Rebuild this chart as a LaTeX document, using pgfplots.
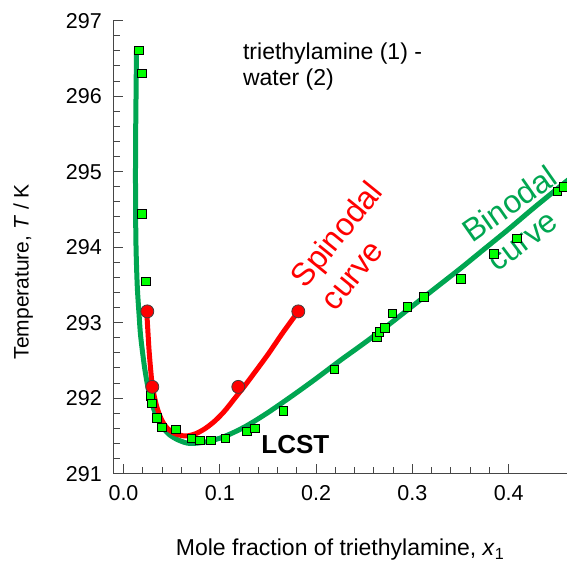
\documentclass[border=0pt]{standalone}
\usepackage{pgfplots}
\pgfplotsset{compat=1.18}
\usepackage{fontspec}
\setmainfont{Liberation Sans}
\definecolor{bgreen}{RGB}{0,166,81}
\definecolor{limeg}{RGB}{0,255,0}
\definecolor{axgray}{RGB}{70,70,70}
\begin{document}
\begin{tikzpicture}
\begin{axis}[
 name=ax,
 scale only axis, width=453.7pt, height=453pt,
 xmin=-0.0106, xmax=0.4605, ymin=291, ymax=297,
 axis lines=left, axis line style={-, line width=1.2pt, axgray},
 tick align=inside, major tick length=10pt, minor tick length=7pt,
 every tick/.style={line width=1pt, axgray},
 xtick={0,0.1,0.2,0.3,0.4}, minor x tick num=4,
 ytick={291,292,293,294,295,296,297}, minor y tick num=4,
 xticklabel style={/pgf/number format/fixed, /pgf/number format/fixed zerofill, /pgf/number format/precision=1, yshift=-8pt},
 yticklabel style={/pgf/number format/1000 sep={}, xshift=-8pt},
 /pgf/number format/assume math mode=true,
 ticklabel style={font=\fontsize{21.5}{25}\selectfont},
]
\addplot[bgreen, line width=5pt, smooth, tension=0.5] coordinates {
(0.0135,296.62) (0.0130,296.0) (0.0125,295.3) (0.0125,294.6) (0.0130,294.0)
(0.0143,293.48) (0.0162,293.1) (0.0179,292.81) (0.0223,292.37) (0.0275,292.02)
(0.0345,291.75) (0.0410,291.61) (0.0483,291.51) (0.058,291.44) (0.069,291.40)
(0.085,291.42) (0.100,291.47) (0.115,291.55) (0.130,291.65) (0.150,291.81)
(0.175,292.03) (0.200,292.26) (0.225,292.50) (0.250,292.73) (0.275,292.97)
(0.300,293.22) (0.325,293.47) (0.350,293.72) (0.375,293.98) (0.400,294.24)
(0.425,294.51) (0.450,294.77) (0.475,295.03)};
\addplot[only marks, mark=square*, mark size=4.2pt, mark options={fill=limeg, draw=black, line width=0.8pt}] coordinates {
(0.0161,296.61) (0.0189,296.30) (0.0192,294.44) (0.0234,293.55) (0.0280,292.03)
(0.0293,291.93) (0.0345,291.74) (0.0397,291.61) (0.0542,291.59) (0.0708,291.47)
(0.0794,291.44) (0.0909,291.44) (0.1061,291.47) (0.128,291.56) (0.1366,291.60)
(0.166,291.83) (0.219,292.38) (0.263,292.81) (0.2656,292.88) (0.2716,292.93)
(0.279,293.12) (0.2947,293.21) (0.312,293.34) (0.3505,293.58) (0.3847,293.91)
(0.4083,294.12) (0.4505,294.74) (0.4567,294.80)};
\addplot[red, line width=5pt, smooth, tension=0.5] coordinates {
(0.0241,293.15) (0.0255,292.85) (0.0268,292.59) (0.0299,292.17) (0.0345,291.89)
(0.0397,291.71) (0.0449,291.61) (0.0520,291.54) (0.0587,291.51) (0.0656,291.50)
(0.075,291.53) (0.085,291.60) (0.095,291.70) (0.105,291.83) (0.115,291.99)
(0.125,292.15) (0.135,292.32) (0.150,292.58) (0.165,292.86) (0.1815,293.15)};
\addplot[only marks, mark=*, mark size=6.5pt, mark options={fill=red, draw=black!75, line width=0.8pt}] coordinates {
(0.0247,293.15) (0.0299,292.15) (0.1192,292.15) (0.1815,293.15)};
\node[anchor=base west, font=\fontsize{23}{26}\selectfont] at (axis cs:0.1205,296.48) {triethylamine (1) -};
\node[anchor=base west, font=\fontsize{23}{26}\selectfont] at (axis cs:0.1205,296.14) {water (2)};
\node[rotate=51, red, font=\fontsize{32}{36}\selectfont] at (axis cs:0.2234,294.15) {Spinodal};
\node[rotate=51, red, font=\fontsize{32}{36}\selectfont] at (axis cs:0.2390,293.61) {curve};
\node[rotate=35, bgreen, font=\fontsize{32}{36}\selectfont] at (axis cs:0.4008,294.58) {Binodal};
\node[rotate=37, bgreen, font=\fontsize{32}{36}\selectfont] at (axis cs:0.4156,294.06) {curve};
\node[anchor=base, font=\bfseries\fontsize{26}{30}\selectfont] at (axis cs:0.1785,291.27) {LCST};
\end{axis}
\node[rotate=90, font=\fontsize{21}{25}\selectfont] at ([xshift=-90pt,yshift=202pt]ax.south west) {Temperature, \textit{T} / K};
\node[font=\fontsize{23}{27}\selectfont] at ([yshift=-76pt]ax.south) {Mole fraction of triethylamine, \textit{x}\textsubscript{1}};
\pgfresetboundingbox
\path[use as bounding box] ([xshift=-113.3pt,yshift=-90.3pt]ax.south west) rectangle ([yshift=20.7pt]ax.north east);
\end{tikzpicture}
\end{document}
